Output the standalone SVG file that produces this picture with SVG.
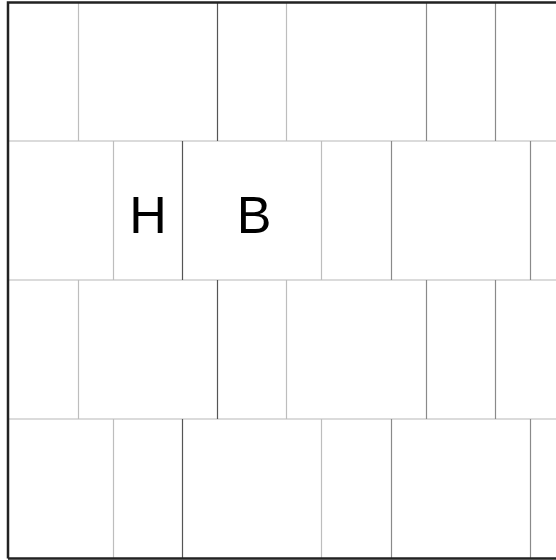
<svg xmlns="http://www.w3.org/2000/svg" width="556" height="560" viewBox="0 0 556 560">
<style>
.h{stroke:#cfcfcf;stroke-width:1.5}
.l{stroke:#bdbdbd;stroke-width:1.2}
.m{stroke:#8a8a8a;stroke-width:1.2}
.d{stroke:#555;stroke-width:1.2}
.t{font-family:"Liberation Sans",Arial,sans-serif;font-size:52px;fill:#000;text-anchor:middle}
</style>
<rect width="556" height="560" fill="#fff"/>
<g id="connectors">
<line class="h" x1="8" y1="141" x2="556" y2="141"/>
<line class="h" x1="8" y1="280" x2="556" y2="280"/>
<line class="h" x1="8" y1="419" x2="556" y2="419"/>
<line class="l" x1="78.5" y1="3" x2="78.5" y2="141"/>
<line class="d" x1="217.5" y1="3" x2="217.5" y2="141"/>
<line class="l" x1="286.5" y1="3" x2="286.5" y2="141"/>
<line class="m" x1="426.5" y1="3" x2="426.5" y2="141"/>
<line class="m" x1="495.5" y1="3" x2="495.5" y2="141"/>
<line class="l" x1="113.5" y1="141" x2="113.5" y2="280"/>
<line class="d" x1="182.5" y1="141" x2="182.5" y2="280"/>
<line class="l" x1="321.5" y1="141" x2="321.5" y2="280"/>
<line class="m" x1="391.5" y1="141" x2="391.5" y2="280"/>
<line class="m" x1="530.5" y1="141" x2="530.5" y2="280"/>
<line class="l" x1="78.5" y1="280" x2="78.5" y2="419"/>
<line class="d" x1="217.5" y1="280" x2="217.5" y2="419"/>
<line class="l" x1="286.5" y1="280" x2="286.5" y2="419"/>
<line class="m" x1="426.5" y1="280" x2="426.5" y2="419"/>
<line class="m" x1="495.5" y1="280" x2="495.5" y2="419"/>
<line class="l" x1="113.5" y1="419" x2="113.5" y2="558"/>
<line class="d" x1="182.5" y1="419" x2="182.5" y2="558"/>
<line class="l" x1="321.5" y1="419" x2="321.5" y2="558"/>
<line class="m" x1="391.5" y1="419" x2="391.5" y2="558"/>
<line class="m" x1="530.5" y1="419" x2="530.5" y2="558"/>
</g>
<path d="M8,558.5 V2.5 H556 M8,558.5 H556" fill="none" stroke="#222" stroke-width="2.5"/>
<g id="node-H"><text class="t" x="148" y="233">H</text></g>
<g id="node-B"><text class="t" x="254" y="233">B</text></g>
</svg>
